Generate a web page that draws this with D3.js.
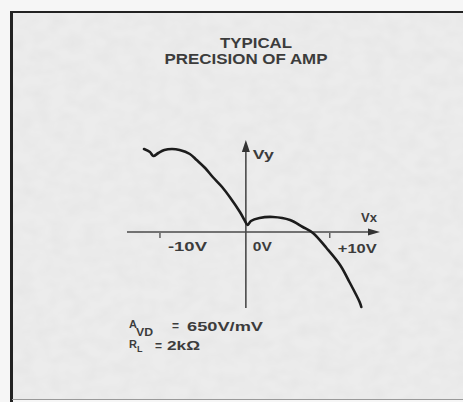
<!DOCTYPE html>
<html>
<head>
<meta charset="utf-8">
<script src="https://cdn.jsdelivr.net/npm/d3@7"></script>
<style>
  html, body { margin: 0; padding: 0; background: #f6f6f6; }
  svg { display: block; }
  text { font-family: "Liberation Sans", Arial, sans-serif; fill: #3c3c3c; }
</style>
</head>
<body>
<svg id="chart" width="463" height="402"></svg>
<script>
// ---- data (Vx in volts, Vy in relative units) ----
const vx = [-12.0, -11.3, -10.9, -10.3, -9.6, -8.7, -7.8, -6.6, -5.8, -4.8, -3.9, -2.8, -1.9, -0.7, -0.1, 0.2, 0.6, 1.6, 3.2, 5.2, 6.7, 7.9, 9.5, 11.1, 12.2, 13.4, 13.6];
const vy = [83, 80, 76, 79, 82, 83, 82, 78, 72, 64, 55, 45, 35, 20, 11, 7, 11, 14, 15, 12, 5, -1, -16, -33, -50, -70, -75];
const xTicks = [-10, 0, 10];
const xTickLabels = ["-10V", "0V", "+10V"];
const titleLines = ["TYPICAL", "PRECISION OF AMP"];
const xAxisDomain = [-14, 15.8];
const yAxisDomain = [-76, 92];

const svg = d3.select("#chart");
const W = 463, H = 402;

// paper texture
const defs = svg.append("defs");
const f = defs.append("filter").attr("id", "paper").attr("x", 0).attr("y", 0).attr("width", "100%").attr("height", "100%");
f.append("feTurbulence").attr("type", "fractalNoise").attr("baseFrequency", "0.06 0.08").attr("numOctaves", 2).attr("seed", 4).attr("result", "n");
f.append("feColorMatrix").attr("in", "n").attr("type", "matrix")
  .attr("values", "0 0 0 0 0.78  0 0 0 0 0.78  0 0 0 0 0.78  1.2 0 0 0 -0.35").attr("result", "c");
f.append("feComposite").attr("in", "c").attr("in2", "SourceGraphic").attr("operator", "over");

// panel background and frame
svg.append("rect").attr("x", 12).attr("y", 12).attr("width", W - 12).attr("height", H - 14)
  .attr("fill", "#ececec").attr("filter", "url(#paper)");
svg.append("line").attr("x1", 11.5).attr("x2", W).attr("y1", 12).attr("y2", 12)
  .attr("stroke", "#222").attr("stroke-width", 2.2);
svg.append("line").attr("x1", 11.5).attr("x2", 11.5).attr("y1", 11).attr("y2", H)
  .attr("stroke", "#222").attr("stroke-width", 3);
svg.append("line").attr("x1", 12).attr("x2", W).attr("y1", 399.5).attr("y2", 399.5)
  .attr("stroke", "#999").attr("stroke-width", 1);

// scales
const x = d3.scaleLinear().domain(xAxisDomain).range([127, 380]);
const y = d3.scaleLinear().domain(yAxisDomain).range([308, 140]);
const x0 = x(0), y0 = y(0);

// title
const titleX = [256, 246], titleY = [48, 64], titleLen = [72, 163];
titleLines.forEach((t, i) => {
  svg.append("text").attr("x", titleX[i]).attr("y", titleY[i]).attr("text-anchor", "middle")
    .attr("font-size", 14).attr("font-weight", "bold").attr("fill", "#444")
    .attr("textLength", titleLen[i]).attr("lengthAdjust", "spacingAndGlyphs")
    .text(t);
});

const axisColor = "#4a4a4a";
// x axis
svg.append("line").attr("x1", x(xAxisDomain[0])).attr("x2", x(xAxisDomain[1]) - 8)
  .attr("y1", y0).attr("y2", y0).attr("stroke", axisColor).attr("stroke-width", 1.6);
svg.append("path")
  .attr("d", d3.line()([[x(xAxisDomain[1]), y0], [x(xAxisDomain[1]) - 12, y0 - 3.5], [x(xAxisDomain[1]) - 12, y0 + 3.5]]) + "Z")
  .attr("fill", "#333");
// y axis
svg.append("line").attr("x1", x0).attr("x2", x0)
  .attr("y1", y(yAxisDomain[0])).attr("y2", y(yAxisDomain[1]) + 8)
  .attr("stroke", axisColor).attr("stroke-width", 1.6);
svg.append("path")
  .attr("d", d3.line()([[x0, y(yAxisDomain[1])], [x0 - 4, y(yAxisDomain[1]) + 12], [x0 + 4, y(yAxisDomain[1]) + 12]]) + "Z")
  .attr("fill", "#333");

// ticks and labels
xTicks.forEach((v, i) => {
  if (v !== 0) {
    svg.append("line").attr("x1", x(v) - 1).attr("x2", x(v) - 1).attr("y1", y0 + 1).attr("y2", y0 + 6)
      .attr("stroke", "#555").attr("stroke-width", 1.4);
  }
  svg.append("text").attr("x", x(v) + 7).attr("y", y0 + (v === 10 ? 21 : 19))
    .attr("font-size", 13).attr("font-weight", "bold").attr("fill", "#444")
    .attr("textLength", v === 0 ? 19 : 39).attr("lengthAdjust", "spacingAndGlyphs")
    .text(xTickLabels[i]);
});
svg.append("text").attr("x", 361).attr("y", 222).attr("font-size", 13).attr("font-weight", "bold")
  .attr("fill", "#444").attr("textLength", 16).attr("lengthAdjust", "spacingAndGlyphs").text("Vx");
svg.append("text").attr("x", x0 + 7).attr("y", 159).attr("font-size", 13).attr("font-weight", "bold")
  .attr("fill", "#444").attr("textLength", 21).attr("lengthAdjust", "spacingAndGlyphs").text("Vy");

// curve
const pts = vx.map((v, i) => [x(v), y(vy[i])]);
svg.append("path").attr("d", d3.line().curve(d3.curveCatmullRom.alpha(0.5))(pts))
  .attr("fill", "none").attr("stroke", "#1c1c1c").attr("stroke-width", 2.6)
  .attr("stroke-linejoin", "round").attr("stroke-linecap", "round");

// conditions
const g = svg.append("g").attr("font-weight", "bold");
const note = (tx, ty, size, s, len) => {
  const t = g.append("text").attr("x", tx).attr("y", ty).attr("font-size", size).attr("fill", "#4a4a4a").text(s);
  if (len) t.attr("textLength", len).attr("lengthAdjust", "spacingAndGlyphs");
};
note(129, 328, 11, "A");
note(136, 336, 11, "VD", 17);
note(172, 330, 12, "=");
note(187, 331, 13, "650V/mV", 76);
note(129, 348, 11, "R");
note(137, 352, 9, "L");
note(155, 350, 12, "=");
note(167, 350, 13, "2kΩ", 33);
</script>
</body>
</html>
